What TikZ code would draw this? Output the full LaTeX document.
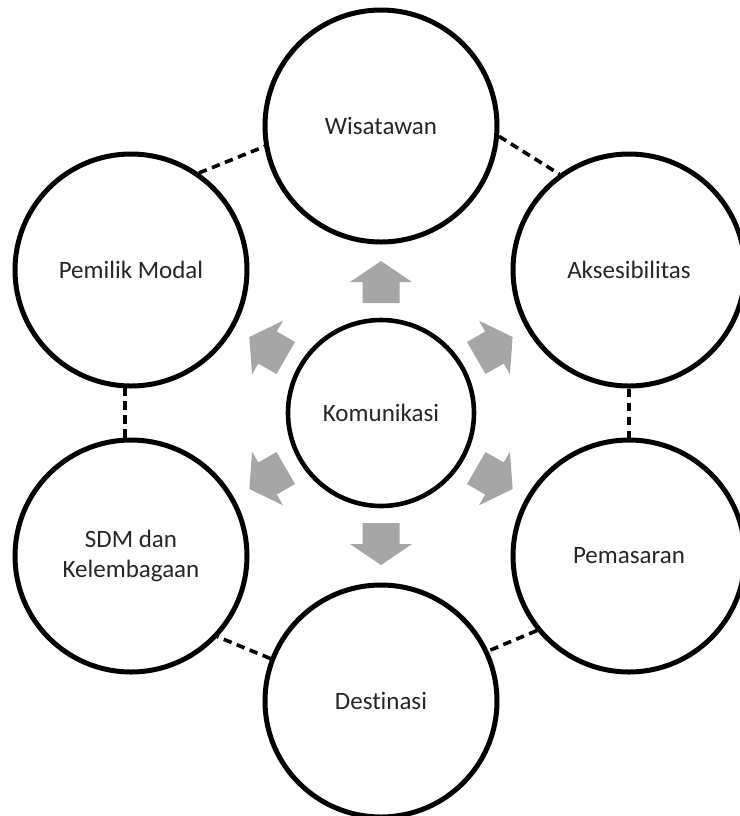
\documentclass[tikz,border=0pt]{standalone}
\usepackage{fontspec}
\setmainfont{Carlito}[Ligatures=NoCommon]
\tikzset
{
    ringnode/.style = {circle, draw=black, line width=2.5pt, minimum size=116pt, inner sep=0pt, align=center, text=black!85, font=\fontsize{12.5}{15}\selectfont},
    hubnode/.style  = {ringnode, line width=2.3pt, minimum size=93pt},
    link/.style     = {draw=black, line width=1.8pt, dash pattern=on 4.2pt off 2.8pt},
    fatarrow/.style = {fill=black!35, draw=none}
}

\begin{document}
\begin{tikzpicture}[x=0.5pt, y=-0.5pt]
\useasboundingbox (0,0) rectangle (740,816);
\node(km) [hubnode] at (381, 413) {Komunikasi};
\node(ws) [ringnode] at (381, 126) {Wisatawan};
\node(ak) [ringnode] at (629, 270) {Aksesibilitas};
\node(ps) [ringnode] at (629, 556) {Pemasaran};
\node(ds) [ringnode] at (381, 701) {Destinasi};
\node(sd) [ringnode] at (131, 556) {SDM dan\\Kelembagaan};
\node(pm) [ringnode] at (131, 270) {Pemilik Modal};
% dashed ties round the ring
\draw[link] (pm.55) -- (ws.190);
\draw[link] (ws.-5) -- (ak.126);
\draw[link] (ak.-90) -- (ps.90);
\draw[link] (ps.219) -- (ds.25);
\draw[link] (ds.159) -- (sd.-43);
\draw[link] (sd.93) -- (pm.-93);
% grey arrows out of the hub
\foreach \a in {90,30,-30,-90,-150,150}
{
    \fill[fatarrow, shift={(km)}, rotate=\a] (110,-18.5) -- (131,-18.5) -- (131,-31) -- (152,0) -- (131,31) -- (131,18.5) -- (110,18.5) -- cycle;
}
\end{tikzpicture}
\end{document}
